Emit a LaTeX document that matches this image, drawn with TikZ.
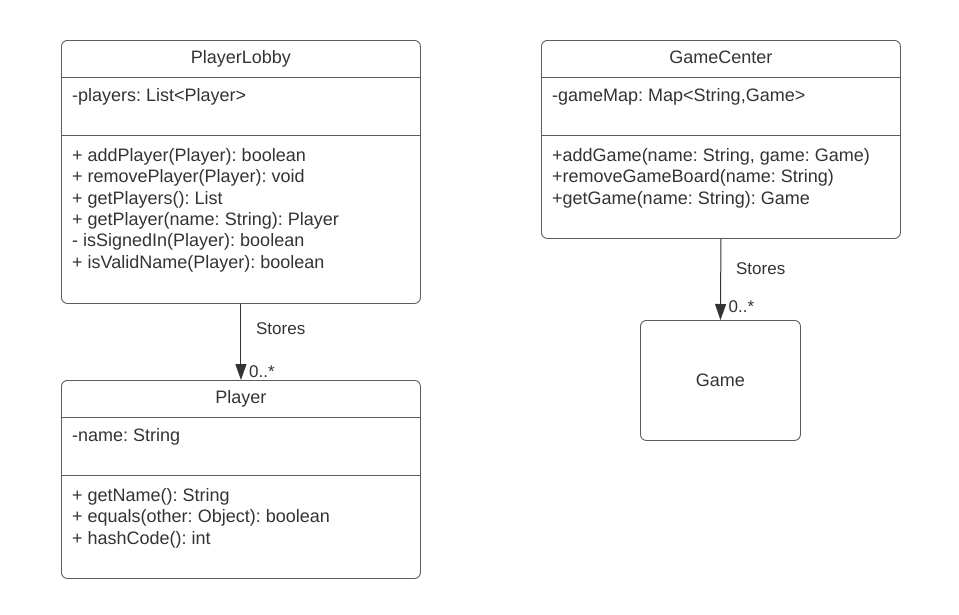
\documentclass[tikz,border=0pt]{standalone}
\usepackage{fontspec}
\setmainfont{Liberation Sans}
\usetikzlibrary{arrows.meta,positioning,calc}
\definecolor{edge}{HTML}{5C5C5C}
\definecolor{ink}{HTML}{333333}
\frenchspacing

\begin{document}
\begin{tikzpicture}[x=1pt, y=-1pt,
  cls/.style={draw=edge, line width=0.9pt, rounded corners=6pt, inner sep=0pt,
              anchor=north west, minimum width=359pt},
  sep/.style={draw=edge, line width=0.9pt},
  ttl/.style={anchor=base, inner sep=0pt, text=ink, font=\fontsize{18}{21.4}\selectfont},
  mem/.style={anchor=base west, inner sep=0pt, text=ink, font=\fontsize{18}{21.4}\selectfont},
  ops/.style={anchor=north west, inner sep=0pt, align=left, text=ink,
              font=\fontsize{18}{21.4}\selectfont},
  lbl/.style={inner sep=0pt, text=ink, font=\fontsize{17}{20}\selectfont},
  arr/.style={-{Triangle[length=16pt, width=11pt]}, draw=ink, line width=1pt}
]
\useasboundingbox (0,0) rectangle (959,614);

% class boxes
\node[cls, minimum height=263pt] (lobby) at (61,40) {};
\node[cls, minimum height=198pt] (center) at (541,40) {};
\node[cls, minimum height=198pt] (player) at (61,380) {};
\node[cls, minimum width=160pt, minimum height=120pt] (game) at (640,320) {};

% compartments
\foreach \c in {lobby,center,player} {
  \draw[sep] ($(\c.north west)+(0,37)$) -- ($(\c.north east)+(0,37)$);
  \draw[sep] ($(\c.north west)+(0,95)$) -- ($(\c.north east)+(0,95)$);
}

% PlayerLobby
\node[ttl] (lobbyname) at ($(lobby.north)+(0,23.5)$) {PlayerLobby};
\node[mem] (lobbyattr) at ($(lobby.north west)+(11,61)$) {-players: List<Player>};
\node[ops] (lobbyops) at ($(lobby.north west)+(11,108)$)
  {+ addPlayer(Player): boolean\\
   + removePlayer(Player): void\\
   + getPlayers(): List\\
   + getPlayer(name: String): Player\\
   - isSignedIn(Player): boolean\\
   + isValidName(Player): boolean};

% GameCenter
\node[ttl] (centername) at ($(center.north)+(0,23.5)$) {GameCenter};
\node[mem] (centerattr) at ($(center.north west)+(11,61)$) {-gameMap: Map<String,Game>};
\node[ops] (centerops) at ($(center.north west)+(11,108)$)
  {+addGame(name: String, game: Game)\\
   +removeGameBoard(name: String)\\
   +getGame(name: String): Game};

% Player
\node[ttl] (playername) at ($(player.north)+(0,23.5)$) {Player};
\node[mem] (playerattr) at ($(player.north west)+(11,61)$) {-name: String};
\node[ops] (playerops) at ($(player.north west)+(11,108)$)
  {+ getName(): String\\
   + equals(other: Object): boolean\\
   + hashCode(): int};

% Game
\node[ttl, anchor=center] (gamename) at (game.center) {Game};

% associations
\foreach \s/\t/\dy/\dm in {lobby/player/25/3, center/game/30/8} {
  \draw[arr] (\s.south) -- (\t.north);
  \node[lbl, anchor=west] at ($(\s.south)+(15,\dy)$) {Stores};
  \node[lbl, anchor=base west] at ($(\t.north)+(8,-\dm)$) {0..*};
}
\end{tikzpicture}
\end{document}
